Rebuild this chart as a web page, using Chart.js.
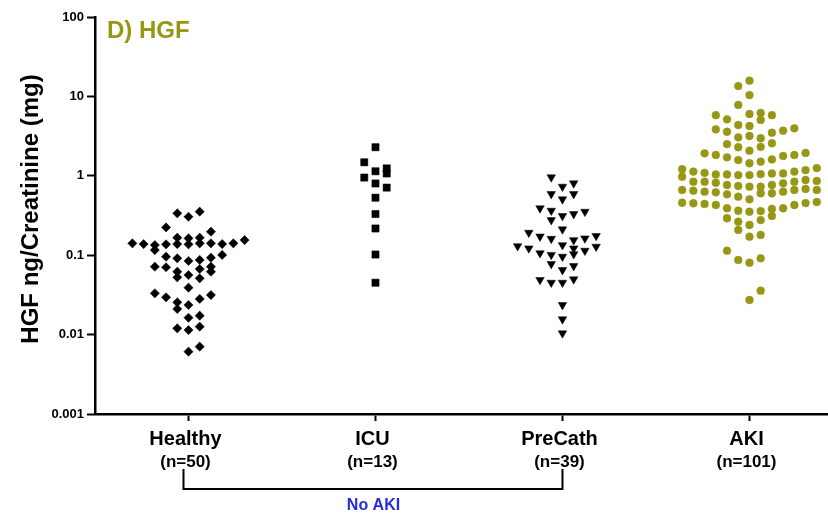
<!DOCTYPE html>
<html>
<head>
<meta charset="utf-8">
<script src="https://cdn.jsdelivr.net/npm/chart.js@4.4.0/dist/chart.umd.min.js"></script>
<style>
  html, body { margin: 0; padding: 0; background: #fff; }
  #wrap { width: 828px; height: 513px; }
</style>
</head>
<body>
<div id="wrap"><canvas id="c" width="828" height="513"></canvas></div>
<script>
// Groups along the x axis
const categories = ['Healthy', 'ICU', 'PreCath', 'AKI'];
const groupSizes = ['(n=50)', '(n=13)', '(n=39)', '(n=101)'];

// Log axis ticks
const yTickValues = [0.001, 0.01, 0.1, 1, 10, 100];
const yTickLabels = ['0.001', '0.01', '0.1', '1', '10', '100'];

// HGF ng / creatinine (mg) per subject; lanes = horizontal lane of each dot within its swarm
const healthyValues = [
  0.337, 0.305, 0.353, 0.224, 0.198, 0.166, 0.163, 0.166,
  0.141, 0.138, 0.134, 0.116, 0.137, 0.138, 0.137, 0.141, 0.141, 0.138, 0.141, 0.155,
  0.0958, 0.0914, 0.0845, 0.0871, 0.093, 0.1007,
  0.0716, 0.0705, 0.062, 0.0527, 0.0563, 0.067, 0.0512, 0.0716, 0.062,
  0.039, 0.0331, 0.0295, 0.0255, 0.021, 0.0236, 0.0281, 0.0315,
  0.0163, 0.0173, 0.012, 0.0114, 0.0126, 0.0061, 0.00705
];
const healthyLanes = [
  -1, 0, 1, -2, 2, -1, 0, 1,
  -5, -4, -3, -3, -2, -1, 0, 1, 2, 3, 4, 5,
  -2, -1, 0, 1, 2, 3,
  -3, -2, -1, -1, 0, 1, 1, 2, 2,
  0, -3, -2, -1, -1, 0, 1, 2,
  0, 1, -1, 0, 1, 0, 1
];

const icuValues = [2.29, 1.48, 1.24, 1.07, 1.14, 0.95, 0.80, 0.71, 0.53, 0.33, 0.217, 0.102, 0.045];
const icuLanes  = [0, -1, 1, 1, 0, -1, 0, 1, 0, 0, 0, 0, 0];

const preCathValues = [
  0.957, 0.73, 0.804, 0.590, 0.506, 0.590,
  0.390, 0.364, 0.277, 0.312, 0.330, 0.353, 0.212,
  0.192, 0.172, 0.161, 0.155, 0.163, 0.175,
  0.130, 0.122, 0.134, 0.128, 0.114,
  0.106, 0.101, 0.0958, 0.103,
  0.0775, 0.0651, 0.0731,
  0.0488, 0.0451, 0.0451, 0.0497,
  0.0236, 0.0156, 0.0104, 0.122
];
const preCathLanes = [
  -1, 0, 1, -1, 0, 1,
  -2, -1, -1, 0, 1, 2, 0,
  -3, -2, -1, 1, 2, 3,
  -4, -3, 0, 3, 2,
  -2, -1, 0, 1,
  -1, 0, 1,
  -2, -1, 0, 1,
  0, 0, 0, 1
];

const akiValues = [
  13.5, 15.8, 10.4, 7.8, 5.8, 5.15, 6.0, 6.2, 5.05, 5.8,
  3.85, 3.59, 4.36, 4.24, 3.49, 3.70, 3.96,
  3.05, 3.17, 2.97,
  2.51, 2.29, 2.07, 2.32, 2.57,
  1.92, 1.83, 1.71, 1.58, 1.44, 1.51, 1.61, 1.78, 1.83, 1.94,
  1.21, 0.975, 1.13, 1.09, 1.04, 1.04, 1.02, 1.02, 1.05, 1.07, 1.07, 1.13, 1.18, 1.25,
  0.843, 0.843, 0.818, 0.766, 0.745, 0.730, 0.730, 0.766, 0.805, 0.843, 0.885, 0.861,
  0.663, 0.649, 0.631, 0.620, 0.585, 0.546, 0.506, 0.603, 0.603, 0.631, 0.663, 0.683, 0.663,
  0.458, 0.451, 0.442, 0.429, 0.390, 0.363, 0.353, 0.360, 0.382, 0.312, 0.390, 0.429, 0.454, 0.468,
  0.292, 0.264, 0.208, 0.240, 0.277,
  0.171, 0.180, 0.114,
  0.0871, 0.0805, 0.0914,
  0.0357, 0.0273
];
const akiLanes = [
  -1, 0, 0, -1, -3, -2, 0, 1, 1, 2,
  -3, -2, -1, 0, 2, 3, 4,
  -1, 0, 1,
  -2, -1, 0, 1, 2,
  -4, -3, -2, -1, 0, 1, 2, 3, 4, 5,
  -6, -6, -5, -4, -3, -2, -1, 0, 1, 2, 3, 4, 5, 6,
  -5, -4, -3, -2, -1, 0, 1, 2, 3, 4, 5, 6,
  -6, -5, -4, -3, -2, -1, 0, 1, 2, 3, 4, 5, 6,
  -6, -5, -4, -3, -2, -1, 0, 1, 2, 2, 3, 4, 5, 6,
  -2, -1, -1, 0, 1,
  0, 1, -2,
  -1, 0, 1,
  1, 0
];

const LANE_STEP = 0.06;        // width of one swarm lane, in category units
const OLIVE = '#979716';
const BLUE = '#2a2ad8';
const FONT = '"Liberation Sans", Arial, sans-serif';

function swarm(groupIndex, values, lanes) {
  return values.map((v, i) => ({ x: groupIndex + lanes[i] * LANE_STEP, y: v }));
}

const decorations = {
  id: 'decorations',
  afterDraw(chart) {
    const { ctx } = chart;
    const x = chart.scales.x;
    ctx.save();

    // panel title
    ctx.fillStyle = OLIVE;
    ctx.font = 'bold 24px ' + FONT;
    ctx.textAlign = 'left';
    ctx.textBaseline = 'alphabetic';
    ctx.fillText('D) HGF', 107, 38);

    // y axis title
    ctx.save();
    ctx.translate(31, 209);
    ctx.rotate(-Math.PI / 2);
    ctx.fillStyle = '#000';
    ctx.font = 'bold 24px ' + FONT;
    ctx.textAlign = 'center';
    ctx.textBaseline = 'middle';
    ctx.fillText('HGF ng/Creatinine (mg)', 0, 0);
    ctx.restore();

    // group names and sizes
    ctx.fillStyle = '#000';
    ctx.textAlign = 'center';
    ctx.textBaseline = 'alphabetic';
    categories.forEach((name, i) => {
      const px = x.getPixelForValue(i) - 3;
      ctx.font = 'bold 20px ' + FONT;
      ctx.fillText(name, px, 445);
      ctx.font = 'bold 17px ' + FONT;
      ctx.fillText(groupSizes[i], px, 467);
    });

    // bracket joining the non-AKI groups
    const xa = x.getPixelForValue(0) - 5;
    const xb = x.getPixelForValue(2);
    ctx.strokeStyle = '#000';
    ctx.lineWidth = 2;
    ctx.beginPath();
    ctx.moveTo(xa, 469);
    ctx.lineTo(xa, 489);
    ctx.lineTo(xb, 489);
    ctx.lineTo(xb, 469);
    ctx.stroke();

    ctx.fillStyle = BLUE;
    ctx.font = 'bold 16px ' + FONT;
    ctx.fillText('No AKI', x.getPixelForValue(1) - 2, 510);
    ctx.restore();
  }
};

new Chart(document.getElementById('c'), {
  type: 'scatter',
  data: {
    datasets: [
      { label: categories[0], data: swarm(0, healthyValues, healthyLanes),
        pointStyle: 'rectRot', pointRadius: 4.6, backgroundColor: '#000', borderColor: '#000', borderWidth: 0.5 },
      { label: categories[1], data: swarm(1, icuValues, icuLanes),
        pointStyle: 'rect', pointRadius: 5.1, backgroundColor: '#000', borderColor: '#000', borderWidth: 0.5 },
      { label: categories[2], data: swarm(2, preCathValues, preCathLanes),
        pointStyle: 'triangle', rotation: 180, pointRadius: 4.9, backgroundColor: '#000', borderColor: '#000', borderWidth: 0.5 },
      { label: categories[3], data: swarm(3, akiValues, akiLanes),
        pointStyle: 'circle', pointRadius: 3.9, backgroundColor: OLIVE, borderColor: OLIVE, borderWidth: 0.5 }
    ]
  },
  options: {
    responsive: false,
    animation: false,
    events: [],
    layout: { autoPadding: false, padding: { top: 17, left: 0, right: 0, bottom: 0 } },
    plugins: { legend: { display: false }, tooltip: { enabled: false }, title: { display: false } },
    scales: {
      x: {
        type: 'linear',
        min: -0.5,
        max: 3.42,
        afterFit: (s) => { s.height = 99; },
        afterBuildTicks: (s) => { s.ticks = categories.map((_, i) => ({ value: i })); },
        ticks: { display: false },
        grid: { display: true, drawOnChartArea: false, drawTicks: true, tickLength: 7, tickWidth: 2, tickColor: '#000', color: '#000' },
        border: { display: true, color: '#000', width: 2.5 }
      },
      y: {
        type: 'logarithmic',
        min: 0.001,
        max: 100,
        afterFit: (s) => { s.width = 95; },
        afterBuildTicks: (s) => { s.ticks = yTickValues.map(v => ({ value: v })); },
        ticks: {
          color: '#000',
          padding: 3,
          font: { family: FONT, size: 13, weight: 'bold' },
          callback: (v, i) => yTickLabels[i]
        },
        grid: { display: true, drawOnChartArea: false, drawTicks: true, tickLength: 8, tickWidth: 2, tickColor: '#000', color: '#000' },
        border: { display: true, color: '#000', width: 2.5 }
      }
    }
  },
  plugins: [decorations]
});
</script>
</body>
</html>
